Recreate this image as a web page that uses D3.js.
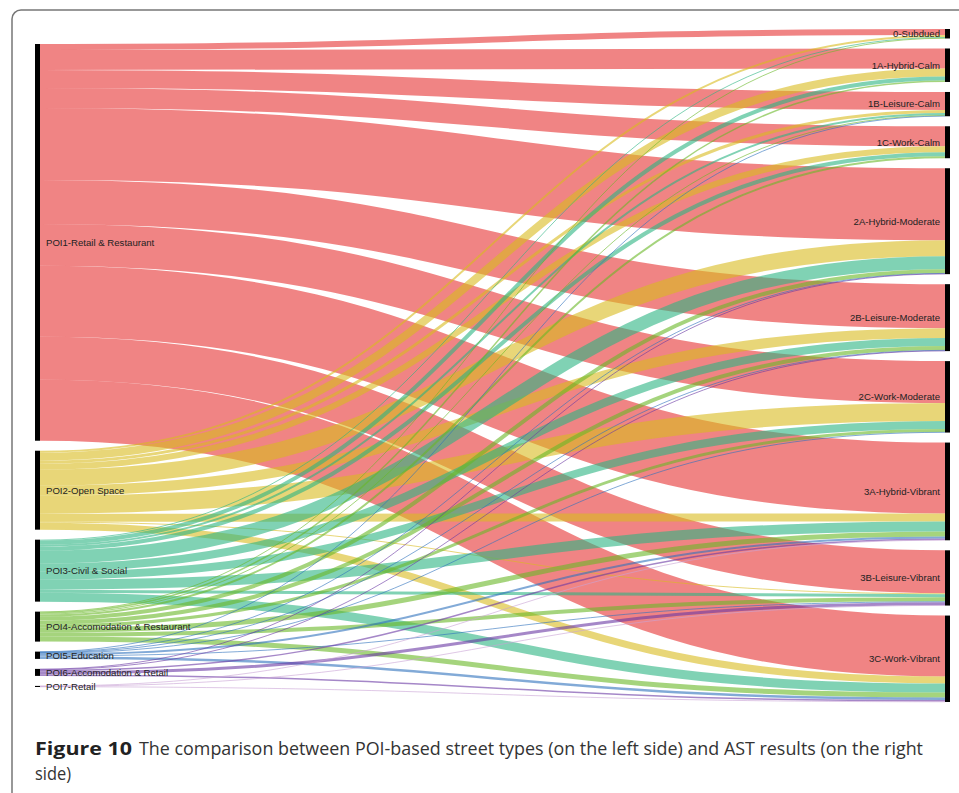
<html>
  <head>
    <meta charset="utf-8">
    <script src="https://cdn.jsdelivr.net/npm/d3@7"></script>
    <style>
      body { margin: 0; background: #fff; }
    </style>
  </head>
  <body>
    <script>
      var w = 959;
      var h = 793;

      // left side: POI-based street types
      var sources = [
        "POI1-Retail & Restaurant",
        "POI2-Open Space",
        "POI3-Civil & Social",
        "POI4-Accomodation & Restaurant",
        "POI5-Education",
        "POI6-Accomodation & Retail",
        "POI7-Retail"
      ];
      // right side: AST results
      var targets = [
        "0-Subdued", "1A-Hybrid-Calm", "1B-Leisure-Calm", "1C-Work-Calm",
        "2A-Hybrid-Moderate", "2B-Leisure-Moderate", "2C-Work-Moderate",
        "3A-Hybrid-Vibrant", "3B-Leisure-Vibrant", "3C-Work-Vibrant"
      ];
      // flow values, one row per source, in target order
      var poi1 = [6, 20, 18, 20, 72, 44, 42, 71, 43, 61];
      var poi2 = [2, 8, 3, 6, 16, 10, 18, 8, 1, 7];
      var poi3 = [1, 4, 2, 4, 13, 8, 8, 10, 3, 9];
      var poi4 = [0.5, 1.5, 1, 2, 4, 4, 3, 5, 4, 5];
      var poi5 = [0, 0, 0.3, 0, 0.5, 0.5, 0.5, 2, 1, 2.5];
      var poi6 = [0, 0, 0, 0, 0.5, 0.5, 0, 1.5, 3, 1.5];
      var poi7 = [0, 0, 0, 0, 0, 0, 0, 0.3, 0.3, 0.5];
      var flows = [poi1, poi2, poi3, poi4, poi5, poi6, poi7];

      var colors = ["#e63232", "#d9bb1e", "#2bb482", "#69b726", "#2f71bc", "#6937a3", "#c9a3d5"];

      // geometry
      var yTop = 29, yBottom = 702, pad = 10;
      var leftX = 35, rightX = 945, nodeW = 5;

      var total = d3.sum(flows, function(r) { return d3.sum(r); });
      var y = d3.scaleLinear()
                .domain([0, total])
                .range([0, (yBottom - yTop) - (targets.length - 1) * pad]);

      var srcTotals = flows.map(function(r) { return d3.sum(r); });
      var tgtTotals = targets.map(function(t, j) {
        return d3.sum(flows, function(r) { return r[j]; });
      });

      // node positions, each column centred in the band
      function stack(totals, x) {
        var span = y(d3.sum(totals)) + (totals.length - 1) * pad;
        var cur = yTop + ((yBottom - yTop) - span) / 2;
        return totals.map(function(v) {
          var n = {x0: x, x1: x + nodeW, y0: cur, y1: cur + y(v)};
          cur = n.y1 + pad;
          return n;
        });
      }
      var srcNodes = stack(srcTotals, leftX);
      var tgtNodes = stack(tgtTotals, rightX);
      srcNodes.forEach(function(n, i) { n.name = sources[i]; });
      tgtNodes.forEach(function(n, j) { n.name = targets[j]; });

      // links
      var links = [];
      var tgtOffset = tgtNodes.map(function(n) { return n.y0; });
      flows.forEach(function(row, i) {
        var sOff = srcNodes[i].y0;
        row.forEach(function(v, j) {
          if (v <= 0) return;
          var lw = y(v);
          links.push({
            source: [srcNodes[i].x1, sOff + lw / 2],
            target: [tgtNodes[j].x0, tgtOffset[j] + lw / 2],
            width: lw,
            color: colors[i]
          });
          sOff += lw;
          tgtOffset[j] += lw;
        });
      });

      var svg = d3.select("body")
                  .append("svg")
                    .attr("width", w)
                    .attr("height", h);

      // frame of the figure
      svg.append("rect")
         .attr("x", 12).attr("y", 10)
         .attr("width", 1000).attr("height", 900)
         .attr("rx", 9)
         .attr("fill", "none")
         .attr("stroke", "#777")
         .attr("stroke-width", 1.5);

      var linkPath = d3.linkHorizontal();

      svg.append("g")
         .attr("fill", "none")
         .selectAll("path")
         .data(links)
         .enter()
         .append("path")
           .attr("d", linkPath)
           .attr("stroke", function(d) { return d.color; })
           .attr("stroke-opacity", 0.6)
           .attr("stroke-width", function(d) { return Math.max(1, d.width); });

      var nodes = srcNodes.concat(tgtNodes);
      svg.append("g")
         .selectAll("rect")
         .data(nodes)
         .enter()
         .append("rect")
           .attr("x", function(d) { return d.x0; })
           .attr("y", function(d) { return d.y0; })
           .attr("width", nodeW)
           .attr("height", function(d) { return Math.max(1, d.y1 - d.y0); })
           .attr("fill", "#000");

      svg.append("g")
         .selectAll("text")
         .data(nodes)
         .enter()
         .append("text")
           .text(function(d) { return d.name; })
           .attr("x", function(d) { return d.x0 < w / 2 ? d.x1 + 6 : d.x0 - 5; })
           .attr("y", function(d) { return (d.y0 + d.y1) / 2; })
           .attr("dy", ".35em")
           .attr("text-anchor", function(d) { return d.x0 < w / 2 ? "start" : "end"; })
           .attr("font-family", "'Liberation Sans', Arial, sans-serif")
           .attr("font-size", "9.6px")
           .attr("fill", "#222");

      // caption
      svg.append("text")
         .attr("x", 35).attr("y", 755)
         .attr("font-family", "'Open Sans', sans-serif")
         .attr("font-size", "18px")
         .attr("font-weight", "bold")
         .attr("fill", "#222")
         .attr("textLength", 97)
         .attr("lengthAdjust", "spacingAndGlyphs")
         .text("Figure 10");
      svg.append("text")
         .attr("x", 139).attr("y", 755)
         .attr("font-family", "'Open Sans', sans-serif")
         .attr("font-size", "18px")
         .attr("fill", "#333")
         .attr("textLength", 784)
         .attr("lengthAdjust", "spacingAndGlyphs")
         .text("The comparison between POI-based street types (on the left side) and AST results (on the right");
      svg.append("text")
         .attr("x", 35).attr("y", 780)
         .attr("font-family", "'Open Sans', sans-serif")
         .attr("font-size", "18px")
         .attr("fill", "#333")
         .attr("textLength", 36)
         .attr("lengthAdjust", "spacingAndGlyphs")
         .text("side)");
    </script>
  </body>
</html>
